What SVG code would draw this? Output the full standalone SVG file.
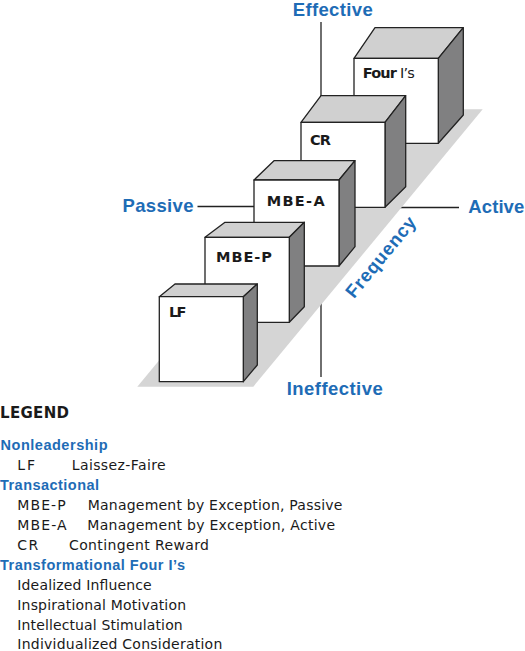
<svg xmlns="http://www.w3.org/2000/svg" width="525" height="651" viewBox="0 0 525 651">
<style>
.front{fill:#ffffff;stroke:#222;stroke-width:1.3;stroke-linejoin:round}
.top{fill:#d0d0d0;stroke:#222;stroke-width:1.3;stroke-linejoin:round}
.side{fill:#808081;stroke:#222;stroke-width:1.3;stroke-linejoin:round}
.axis{stroke:#222;stroke-width:1.3;fill:none}
.ax{font-family:"Liberation Sans",Arial,sans-serif;font-weight:bold;font-size:18.5px;fill:#1e6cb6}
.cl{font-family:"DejaVu Sans","Liberation Sans",sans-serif;font-weight:bold;font-size:14.5px;fill:#1a1a1a}
.lh{font-family:"DejaVu Sans","Liberation Sans",sans-serif;font-weight:bold;font-size:15px;fill:#1a1a1a}
.lb{font-family:"Liberation Sans",Arial,sans-serif;font-weight:bold;font-size:14.5px;fill:#1e6cb6}
.lt{font-family:"DejaVu Sans","Liberation Sans",sans-serif;font-size:14px;fill:#1a1a1a}
</style>
<g id="connectors">
<line class="axis" x1="321" y1="22" x2="321" y2="100"/>
<line class="axis" x1="321" y1="300" x2="321" y2="377"/>
<line class="axis" x1="197.5" y1="206.5" x2="256" y2="206.5"/>
<line class="axis" x1="398" y1="207.5" x2="459" y2="207.5"/>
</g>
<g id="floor">
<polygon points="137.3,386.7 253.3,386.7 482.7,109.3 366.7,109.3" fill="#d5d5d5"/>
<text class="ax" transform="translate(385.6,261) rotate(-50.4)" text-anchor="middle" textLength="99" lengthAdjust="spacing">Frequency</text>
</g>
<g id="cube-four-is">
<polygon class="top" points="354,58.3 375,27.7 463.3,27.7 438.3,58.3"/>
<polygon class="side" points="438.3,58.3 463.3,27.7 463.3,115 438.3,143.3"/>
<rect class="front" x="354" y="58.3" width="84.3" height="85"/>
<text class="cl" x="362.7" y="78.3" textLength="52" lengthAdjust="spacing">Four <tspan font-weight="normal">I’s</tspan></text>
</g>
<g id="cube-cr">
<polygon class="top" points="301,122.3 321,95.7 405.7,95.7 385,122.3"/>
<polygon class="side" points="385,122.3 405.7,95.7 405.7,186.7 385,207.3"/>
<rect class="front" x="301" y="122.3" width="84" height="85"/>
<text class="cl" x="310" y="145" textLength="21" lengthAdjust="spacing">CR</text>
</g>
<g id="cube-mbe-a">
<polygon class="top" points="254,180 274,160.7 355,160.7 339,180"/>
<polygon class="side" points="339,180 355,160.7 355,246.7 339,266"/>
<rect class="front" x="254" y="180" width="85" height="86"/>
<text class="cl" x="266.7" y="205.7" textLength="58" lengthAdjust="spacing">MBE-A</text>
</g>
<g id="cube-mbe-p">
<polygon class="top" points="205,237.3 225,222.3 304.3,222.3 289.3,237.3"/>
<polygon class="side" points="289.3,237.3 304.3,222.3 304.3,306.7 289.3,322.3"/>
<rect class="front" x="205" y="237.3" width="84.3" height="85"/>
<text class="cl" x="216" y="262.3" textLength="56" lengthAdjust="spacing">MBE-P</text>
</g>
<g id="cube-lf">
<polygon class="top" points="159.3,296.7 175,284 257.3,284 243.3,296.7"/>
<polygon class="side" points="243.3,296.7 257.3,284 257.3,365 243.3,381.7"/>
<rect class="front" x="159.3" y="296.7" width="84" height="85"/>
<text class="cl" x="169" y="317.3" textLength="17.5" lengthAdjust="spacing">LF</text>
</g>
<g id="axis-labels">
<text class="ax" x="292.7" y="16" textLength="80" lengthAdjust="spacing">Effective</text>
<text class="ax" x="122.5" y="211.5" textLength="71" lengthAdjust="spacing">Passive</text>
<text class="ax" x="468.3" y="212.7" textLength="56" lengthAdjust="spacing">Active</text>
<text class="ax" x="286.7" y="395" textLength="96" lengthAdjust="spacing">Ineffective</text>
</g>
<g id="legend">
<text class="lh" x="0" y="418.3" textLength="69" lengthAdjust="spacing">LEGEND</text>
<text class="lb" x="0.5" y="449.7" textLength="107" lengthAdjust="spacing">Nonleadership</text>
<text class="lt" x="17.3" y="470" textLength="17.7" lengthAdjust="spacing">LF</text>
<text class="lt" x="71.7" y="470" textLength="94" lengthAdjust="spacing">Laissez-Faire</text>
<text class="lb" x="0" y="490" textLength="99" lengthAdjust="spacing">Transactional</text>
<text class="lt" x="17.3" y="510" textLength="48.4" lengthAdjust="spacing">MBE-P</text>
<text class="lt" x="87.7" y="510" textLength="254.7" lengthAdjust="spacing">Management by Exception, Passive</text>
<text class="lt" x="17.3" y="530" textLength="49.4" lengthAdjust="spacing">MBE-A</text>
<text class="lt" x="87.3" y="530" textLength="247.7" lengthAdjust="spacing">Management by Exception, Active</text>
<text class="lt" x="17.3" y="550" textLength="21" lengthAdjust="spacing">CR</text>
<text class="lt" x="69" y="550" textLength="140" lengthAdjust="spacing">Contingent Reward</text>
<text class="lb" x="0" y="570" textLength="185" lengthAdjust="spacing">Transformational Four I’s</text>
<text class="lt" x="17.3" y="590" textLength="134.4" lengthAdjust="spacing">Idealized Influence</text>
<text class="lt" x="17.3" y="610" textLength="168.7" lengthAdjust="spacing">Inspirational Motivation</text>
<text class="lt" x="17.3" y="630" textLength="165.4" lengthAdjust="spacing">Intellectual Stimulation</text>
<text class="lt" x="17.3" y="648.5" textLength="205" lengthAdjust="spacing">Individualized Consideration</text>
</g>
</svg>
